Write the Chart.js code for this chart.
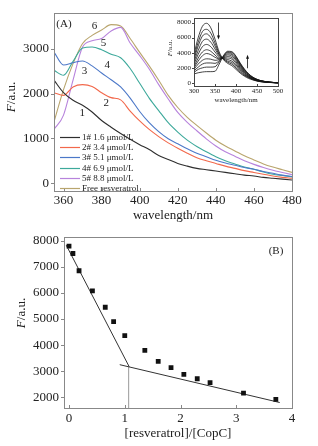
<!DOCTYPE html>
<html>
<head>
<meta charset="utf-8">
<script src="https://cdn.jsdelivr.net/npm/chart.js@4.4.1/dist/chart.umd.min.js"></script>
<style>
  html, body { margin: 0; padding: 0; background: #fff; }
  #wrap { position: relative; width: 318px; height: 446px; }
  canvas { position: absolute; }
</style>
</head>
<body>
<div id="wrap">
  <canvas id="chartA" width="318" height="224" style="left:0;top:0"></canvas>
  <canvas id="inset" width="126" height="100" style="left:164px;top:8px"></canvas>
  <canvas id="chartB" width="318" height="222" style="left:0;top:224px"></canvas>
</div>
<script>
// ---- panel A: emission spectra ----
const wavelengths = [355,360,365,370,375,380,385,390,395,400,405,410,415,420,425,430,435,440,445,450,455,460,465,470,475,480];
const curve1 = [2300,2020,1850,1740,1590,1400,1250,1110,980,860,750,620,530,440,380,330,300,270,240,210,180,160,130,110,90,70];
const curve2 = [2020,1960,2150,2200,2160,2020,1910,1860,1610,1390,1200,1040,900,780,670,570,500,440,380,330,280,240,200,160,130,110];
const curve3 = [2930,2640,2690,2730,2620,2460,2310,2150,1900,1600,1350,1150,990,880,770,670,590,510,450,400,350,310,260,220,180,150];
const curve4 = [2520,2410,2720,3020,3040,2980,2880,2800,2560,2230,1900,1620,1350,1140,960,820,700,590,500,430,360,310,250,200,170,140];
const curve5 = [1200,1520,2300,3040,3180,3230,3400,3480,3130,2850,2550,2200,1880,1580,1360,1170,990,830,700,600,500,420,350,290,240,190];
const curve6 = [1370,2090,2670,3120,3300,3420,3540,3510,3230,2920,2620,2300,1960,1690,1470,1290,1120,960,830,720,610,520,430,360,300,240];
const seriesNames = ['1# 1.6 \u03bcmol/L','2# 3.4 \u03bcmol/L','3# 5.1 \u03bcmol/L','4# 6.9 \u03bcmol/L','5# 8.8 \u03bcmol/L','Free resveratrol'];
const seriesColors = ['#2e2e2e','#f2684b','#4c78c8','#3da99b','#b783dc','#b9a56d'];
const xTicksA = [360,380,400,420,440,460,480];
const yTicksA = [0,1000,2000,3000];
const curveTags = [
  { x: 369.8, y: 1560, t: '1' },
  { x: 382.5, y: 1790, t: '2' },
  { x: 371, y: 2510, t: '3' },
  { x: 383, y: 2640, t: '4' },
  { x: 381, y: 3130, t: '5' },
  { x: 376.3, y: 3500, t: '6' }
];

// ---- inset: full titration spectra ----
const insetX = [300,310,320,330,340,350,360,370,380,390,400,410,420,430,440,450,460,470,480,490,500];
const insetCurves = [
  [3800,6000,7500,7900,7300,5800,4100,3100,2600,2300,1800,1300,900,600,400,250,150,100,60,40,20],
  [3400,5400,6800,7100,6600,5300,3900,3150,2750,2500,2000,1450,1000,700,450,280,170,110,70,40,20],
  [3100,4900,6200,6500,6000,4900,3750,3200,2900,2700,2200,1600,1100,750,480,300,190,120,70,45,25],
  [2800,4300,5500,5800,5400,4500,3600,3250,3100,2900,2400,1750,1200,800,520,330,200,130,80,50,25],
  [2500,3800,4800,5100,4800,4100,3450,3300,3300,3150,2600,1900,1300,870,560,350,220,140,85,50,30],
  [2200,3300,4100,4400,4200,3700,3300,3350,3500,3350,2800,2050,1400,930,600,380,240,150,90,55,30],
  [2000,2900,3600,3900,3750,3400,3200,3400,3700,3550,3000,2200,1500,1000,640,400,250,160,95,55,30],
  [1800,2500,3000,3200,3150,3000,3100,3450,3850,3750,3150,2350,1600,1060,680,430,270,170,100,60,30],
  [1600,2100,2500,2650,2650,2600,2950,3500,4000,3900,3300,2450,1700,1120,720,450,280,175,105,60,30],
  [1400,1800,2000,2100,2100,2150,2800,3550,4100,4050,3450,2550,1780,1170,750,470,290,180,110,65,35],
  [1200,1350,1450,1500,1500,1550,2500,3600,4200,4150,3550,2650,1850,1220,780,490,300,190,115,65,35]
];
const xTicksIn = [300,350,400,450,500];
const yTicksIn = [0,2000,4000,6000,8000];
const insetArrows = [
  { x: 356, from: 8000, to: 5750 },
  { x: 425, from: 1950, to: 3750 }
];

// ---- panel B: quenching plot ----
const ratio = [0,0.07,0.18,0.42,0.65,0.80,1.0,1.36,1.60,1.83,2.06,2.30,2.53,3.13,3.71];
const fluo = [7790,7510,6850,6080,5450,4900,4360,3800,3380,3140,2880,2710,2560,2160,1920];
const fit1X = [-0.05,1.08], fit1Y = [7830,3170];
const fit2X = [0.91,3.78], fit2Y = [3250,1800];
const breakX = [1.07,1.07], breakY = [1590,3170];
const xTicksB = [0,1,2,3,4];
const yTicksB = [2000,3000,4000,5000,6000,7000,8000];

const SERIF = '"Liberation Serif", "DejaVu Serif", serif';
const pts = (xs, ys) => xs.map((x, i) => ({ x: x, y: ys[i] }));

const framePlugin = {
  id: 'frame',
  afterDatasetsDraw(chart, args, o) {
    const { ctx, chartArea: a, scales } = chart;
    ctx.save();
    ctx.strokeStyle = o.color;
    ctx.lineWidth = 1;
    ctx.strokeRect(Math.round(a.left) + 0.5, Math.round(a.top) + 0.5, Math.round(a.right - a.left), Math.round(a.bottom - a.top));
    ctx.beginPath();
    scales.x.ticks.forEach(t => {
      const p = Math.round(scales.x.getPixelForValue(t.value)) + 0.5;
      ctx.moveTo(p, a.bottom); ctx.lineTo(p, a.bottom - o.len);
    });
    scales.y.ticks.forEach(t => {
      const p = Math.round(scales.y.getPixelForValue(t.value)) + 0.5;
      ctx.moveTo(a.left, p); ctx.lineTo(a.left - o.len, p);
    });
    ctx.stroke();
    ctx.restore();
  }
};

const yTitlePlugin = {
  id: 'ytitle',
  afterDraw(chart, args, o) {
    const ctx = chart.ctx;
    ctx.save();
    ctx.translate(o.x, o.y);
    ctx.rotate(-Math.PI / 2);
    ctx.fillStyle = '#222';
    ctx.textBaseline = 'middle';
    ctx.textAlign = 'left';
    const it = 'italic ' + o.size + 'px ' + SERIF, rg = o.size + 'px ' + SERIF;
    ctx.font = it; const w1 = ctx.measureText('F').width;
    ctx.font = rg; const w2 = ctx.measureText('/a.u.').width;
    const x0 = -(w1 + w2) / 2;
    ctx.font = it; ctx.fillText('F', x0, 0);
    ctx.font = rg; ctx.fillText('/a.u.', x0 + w1, 0);
    ctx.restore();
  }
};

const notesPlugin = {
  id: 'notes',
  afterDraw(chart, args, o) {
    const { ctx, chartArea: a, scales } = chart;
    ctx.save();
    ctx.fillStyle = '#222';
    ctx.textAlign = 'center';
    ctx.textBaseline = 'middle';
    ctx.font = o.size + 'px ' + SERIF;
    (o.tags || []).forEach(t => {
      ctx.fillText(t.t, scales.x.getPixelForValue(t.x), scales.y.getPixelForValue(t.y));
    });
    if (o.panel) ctx.fillText(o.panel.t, o.panel.fromRight ? a.right - o.panel.dx : a.left + o.panel.dx, a.top + o.panel.dy);
    ctx.restore();
  }
};

const legendPlugin = {
  id: 'boxLegend',
  afterDraw(chart, args, o) {
    const { ctx, chartArea: a } = chart;
    ctx.save();
    ctx.font = '9px ' + SERIF;
    ctx.textBaseline = 'middle';
    ctx.textAlign = 'left';
    chart.data.datasets.forEach((ds, i) => {
      const y = Math.round(a.top + 124 + i * 10.3) + 0.5;
      ctx.strokeStyle = ds.borderColor;
      ctx.lineWidth = 1.2;
      ctx.beginPath(); ctx.moveTo(a.left + 6, y); ctx.lineTo(a.left + 26, y); ctx.stroke();
      ctx.fillStyle = '#222';
      ctx.fillText(ds.label, a.left + 28, y);
    });
    ctx.restore();
  }
};

const arrowPlugin = {
  id: 'arrows',
  afterDraw(chart, args, o) {
    const { ctx, scales } = chart;
    ctx.save();
    ctx.strokeStyle = '#111';
    ctx.fillStyle = '#111';
    ctx.lineWidth = 0.8;
    insetArrows.forEach(ar => {
      const x = Math.round(scales.x.getPixelForValue(ar.x)) + 0.5;
      const y1 = scales.y.getPixelForValue(ar.from), y2 = scales.y.getPixelForValue(ar.to);
      const d = y2 > y1 ? 1 : -1;
      ctx.beginPath(); ctx.moveTo(x, y1); ctx.lineTo(x, y2 - d * 2); ctx.stroke();
      ctx.beginPath(); ctx.moveTo(x, y2); ctx.lineTo(x - 1.5, y2 - d * 4); ctx.lineTo(x + 1.5, y2 - d * 4); ctx.closePath(); ctx.fill();
    });
    ctx.restore();
  }
};

const fixTicks = (vals) => (scale) => { scale.ticks = vals.map(v => ({ value: v })); };
const tickFont = (s) => ({ family: SERIF, size: s });
const plain = (v) => String(v);
const noGrid = { display: false, drawTicks: false, tickLength: 0 };

Chart.defaults.animation = false;
Chart.defaults.color = '#222';

// panel A
new Chart(document.getElementById('chartA'), {
  type: 'line',
  data: {
    datasets: [curve1, curve2, curve3, curve4, curve5, curve6].map((c, i) => ({
      label: seriesNames[i],
      data: pts(wavelengths, c),
      borderColor: seriesColors[i],
      borderWidth: 1.1,
      pointRadius: 0,
      fill: false,
      cubicInterpolationMode: 'monotone'
    }))
  },
  options: {
    responsive: false,
    layout: { padding: { left: 0, right: 26, top: 8, bottom: 0 } },
    plugins: {
      legend: { display: false },
      tooltip: { enabled: false },
      frame: { color: '#888', len: 3 },
      ytitle: { x: 12, y: 97, size: 13 },
      notes: { tags: curveTags, size: 11, panel: { t: '(A)', dx: 10, dy: 11 } }
    },
    scales: {
      x: {
        type: 'linear', min: 355, max: 480,
        afterBuildTicks: fixTicks(xTicksA),
        afterFit: (s) => { s.height = 33; },
        grid: noGrid, border: { display: false },
        ticks: { font: tickFont(13), padding: 2, maxRotation: 0, callback: plain },
        title: { display: true, text: 'wavelength/nm', font: tickFont(13), padding: { top: 0, bottom: 1 } }
      },
      y: {
        min: -175, max: 3805,
        afterBuildTicks: fixTicks(yTicksA),
        afterFit: (s) => { s.width = 54; },
        grid: noGrid, border: { display: false },
        ticks: { font: tickFont(13), padding: 5, callback: plain }
      }
    }
  },
  plugins: [framePlugin, yTitlePlugin, notesPlugin, legendPlugin]
});

// inset
new Chart(document.getElementById('inset'), {
  type: 'line',
  data: {
    datasets: insetCurves.map(c => ({
      data: pts(insetX, c),
      borderColor: '#151515',
      borderWidth: 0.8,
      pointRadius: 0,
      fill: false,
      cubicInterpolationMode: 'monotone'
    }))
  },
  options: {
    responsive: false,
    layout: { padding: { left: 0, right: 12, top: 10, bottom: 0 } },
    plugins: {
      legend: { display: false },
      tooltip: { enabled: false },
      frame: { color: '#444', len: 2 },
      ytitle: { x: 6, y: 40, size: 7 },
      arrows: {}
    },
    scales: {
      x: {
        type: 'linear', min: 300, max: 500,
        afterBuildTicks: fixTicks(xTicksIn),
        afterFit: (s) => { s.height = 22; },
        grid: noGrid, border: { display: false },
        ticks: { font: tickFont(7), padding: 1, maxRotation: 0, callback: plain },
        title: { display: true, text: 'wavelength/nm', font: tickFont(7), padding: { top: 0, bottom: 4 } }
      },
      y: {
        min: -400, max: 8600,
        afterBuildTicks: fixTicks(yTicksIn),
        afterFit: (s) => { s.width = 30; },
        grid: noGrid, border: { display: false },
        ticks: { font: tickFont(7), padding: 3, callback: plain }
      }
    }
  },
  plugins: [framePlugin, yTitlePlugin, arrowPlugin]
});

// panel B
new Chart(document.getElementById('chartB'), {
  type: 'scatter',
  data: {
    datasets: [
      { data: pts(ratio, fluo), pointStyle: 'rect', pointRadius: 3.4, backgroundColor: '#111', borderColor: '#111', borderWidth: 0 },
      { type: 'line', data: pts(fit1X, fit1Y), borderColor: '#333', borderWidth: 1, pointRadius: 0, fill: false },
      { type: 'line', data: pts(fit2X, fit2Y), borderColor: '#333', borderWidth: 1, pointRadius: 0, fill: false },
      { type: 'line', data: pts(breakX, breakY), borderColor: '#999', borderWidth: 1, pointRadius: 0, fill: false }
    ]
  },
  options: {
    responsive: false,
    layout: { padding: { left: 0, right: 26, top: 9, bottom: 0 } },
    plugins: {
      legend: { display: false },
      tooltip: { enabled: false },
      frame: { color: '#888', len: 3 },
      ytitle: { x: 22, y: 89, size: 13 },
      notes: { size: 11, panel: { t: '(B)', dx: 16, dy: 14, fromRight: true } }
    },
    scales: {
      x: {
        type: 'linear', min: -0.09, max: 4.0,
        afterBuildTicks: fixTicks(xTicksB),
        afterFit: (s) => { s.height = 38; },
        grid: noGrid, border: { display: false },
        ticks: { font: tickFont(13), padding: 3, maxRotation: 0, callback: plain },
        title: { display: true, text: '[resveratrol]/[CopC]', font: tickFont(13), padding: { top: 0, bottom: 5 } }
      },
      y: {
        min: 1590, max: 8150,
        afterBuildTicks: fixTicks(yTicksB),
        afterFit: (s) => { s.width = 64; },
        grid: noGrid, border: { display: false },
        ticks: { font: tickFont(13), padding: 5, callback: plain }
      }
    }
  },
  plugins: [framePlugin, yTitlePlugin, notesPlugin]
});
</script>
</body>
</html>
